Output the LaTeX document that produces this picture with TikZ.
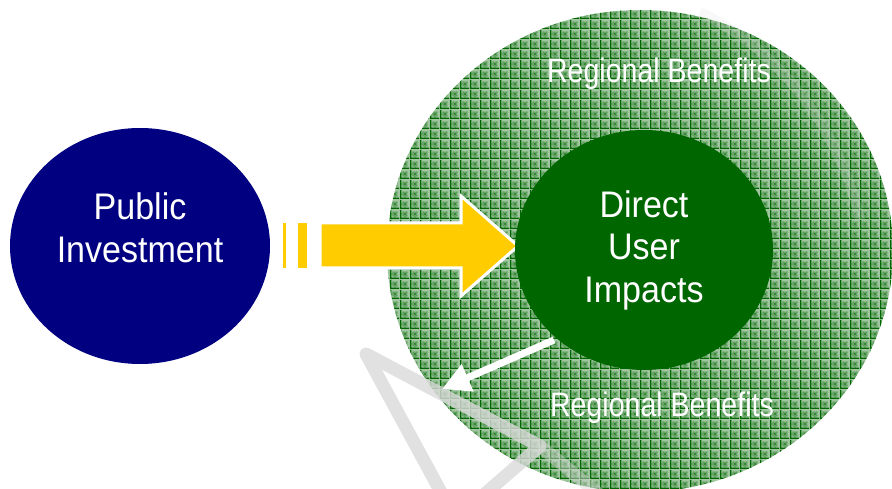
\documentclass[tikz,border=0pt]{standalone}
\usepackage{fontspec}
\setmainfont{Liberation Sans}
\newfontfamily\labelfont{Liberation Sans}[FakeStretch=0.92]
\newfontfamily\ringfont{Liberation Sans}[FakeStretch=0.84]
\usetikzlibrary{shapes.geometric,arrows.meta,patterns,calc}

\definecolor{navy}{RGB}{0,0,128}
\definecolor{leafgreen}{RGB}{0,102,0}
\definecolor{meshgreen}{RGB}{160,198,160}
\definecolor{gold}{RGB}{255,204,0}
\definecolor{ghost}{RGB}{218,218,218}

% woven grid texture for the outer benefits disc
\pgfdeclarepatternformonly{weave}{\pgfqpoint{0pt}{0pt}}{\pgfqpoint{10pt}{10pt}}{\pgfqpoint{10pt}{10pt}}{%
  \pgfpathrectangle{\pgfqpoint{0pt}{0pt}}{\pgfqpoint{10pt}{1.5pt}}%
  \pgfpathrectangle{\pgfqpoint{0pt}{0pt}}{\pgfqpoint{1.5pt}{10pt}}%
  \pgfpathrectangle{\pgfqpoint{5pt}{2pt}}{\pgfqpoint{1pt}{6pt}}%
  \pgfpathrectangle{\pgfqpoint{2pt}{5pt}}{\pgfqpoint{6pt}{1pt}}%
  \pgfpathrectangle{\pgfqpoint{3pt}{3pt}}{\pgfqpoint{1pt}{1pt}}%
  \pgfpathrectangle{\pgfqpoint{7pt}{7pt}}{\pgfqpoint{1pt}{1pt}}%
  \pgfpathrectangle{\pgfqpoint{3pt}{7pt}}{\pgfqpoint{1pt}{1pt}}%
  \pgfpathrectangle{\pgfqpoint{7pt}{3pt}}{\pgfqpoint{1pt}{1pt}}%
  \pgfusepath{fill}%
}

\tikzset{
  disc/.style={ellipse, inner sep=0pt},
  bigtext/.style={text=white, align=center, inner sep=0pt, anchor=base,
                  font=\labelfont\fontsize{37}{42.5}\selectfont},
  benefit/.style={text=white, inner sep=0pt, anchor=base,
                  font=\ringfont\fontsize{34}{36}\selectfont},
  ghostband/.style={draw=ghost, line width=13pt, line join=round, opacity=0.8},
}

\begin{document}
\begin{tikzpicture}[x=1pt,y=-1pt]
\useasboundingbox (0,0) rectangle (892,489);
\begin{scope}
\clip (0,0) rectangle (892,489);

% outer textured disc
\node[disc, minimum width=506pt, minimum height=482pt,
      preaction={fill=meshgreen}, pattern=weave, pattern color=leafgreen]
      (region) at (640,251) {};

% faint circular arrow behind everything
\draw[ghost, line width=10pt, opacity=0.2]
  (700,12) .. controls (780,50) and (840,130) .. (860,220);
\draw[ghostband] (448,505) -- (366,354) -- (540,446) -- (472,505);
\draw[ghostband, opacity=0.45] (540,446) -- (600,495);

% yellow push arrow with its broken tail
\coordinate (tip) at (518,246);
\fill[gold, draw=white, line width=3pt, line join=miter]
  (tip) -- (461,196) -- (461,223) -- (320,223) -- (320,268)
  -- (461,268) -- (461,296) -- cycle;
\fill[gold] (283,223) rectangle (286,268);
\fill[gold] (298,223) rectangle (307,268);

% left and inner circles
\node[disc, minimum width=260pt, minimum height=236pt, fill=navy]
      (pub) at (140,246) {};
\node[disc, minimum width=258pt, minimum height=240pt, fill=leafgreen]
      (dui) at (644,250) {};

% labels, anchored on the baseline of their last line
\node[bigtext] (publbl) at (140,262) {Public\\Investment};
\node[bigtext] (duilbl) at (644,302) {Direct\\User\\Impacts};

% spill-over arrow toward the outer ring
\coordinate (spill) at (442,389);
\draw[white, line width=7pt, -{Triangle[width=28pt,length=28pt]}]
  (dui.225) ++(-2,2) -- (spill);

% outer ring labels
\node[benefit] (rtop) at (659,83) {Regional Benefits};
\node[benefit] (rbot) at (662,416) {Regional Benefits};
\end{scope}
\end{tikzpicture}
\end{document}
